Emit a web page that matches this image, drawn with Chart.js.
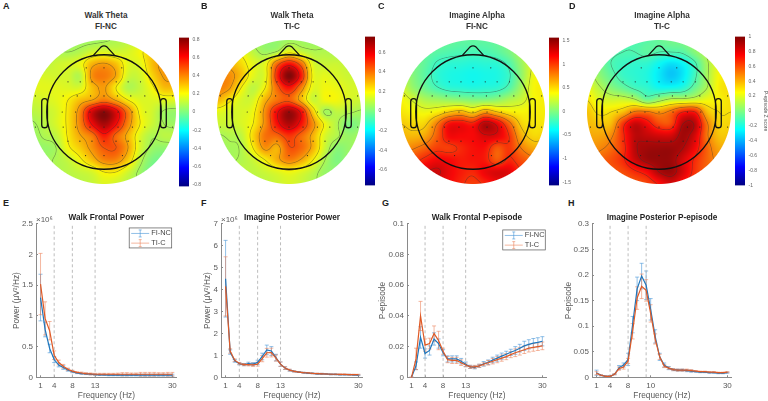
<!DOCTYPE html>
<html>
<head>
<meta charset="utf-8">
<script src="https://cdn.jsdelivr.net/npm/chart.js@4"></script>
<style>
  html, body { margin: 0; padding: 0; background: #fff; }
  body { width: 768px; height: 401px; position: relative; overflow: hidden; font-family: "Liberation Sans", sans-serif; filter: blur(0.35px); }
  canvas, .txt { position: absolute; }
  .letter { font: bold 9px "Liberation Sans"; color: #222; }
  .maptitle { font: bold 8.2px/11px "Liberation Sans"; color: #333; text-align: center; width: 120px; }
</style>
</head>
<body>
<script>
// TOPO MAPS: values on a 13x13 grid over the outer disc
const mapA = [
  [.05,.05,.05,.05,.05,.05,.06,.08,.1,.15,.2,.2,.2],
  [.08,.08,.08,.07,.09,.14,.16,.14,.15,.2,.28,.3,.3],
  [.1,.1,.13,.15,.18,.32,.36,.3,.17,.17,.3,.38,.38],
  [.15,.15,.14,.14,.1,.38,.42,.34,.14,.14,.26,.36,.38],
  [.17,.17,.17,.16,.16,.3,.36,.22,.09,.12,.2,.3,.3],
  [.13,.15,.17,.22,.3,.35,.42,.34,.22,.16,.16,.17,.17],
  [.1,.12,.15,.24,.4,.68,.8,.66,.42,.2,.14,.06,.04],
  [.06,.1,.15,.24,.4,.62,.75,.62,.4,.22,.13,.07,.05],
  [.04,.08,.11,.23,.34,.42,.58,.45,.32,.16,.08,.1,.1],
  [.04,.04,.07,.2,.28,.38,.48,.48,.35,.15,.05,.03,.04],
  [.05,.05,.08,.12,.2,.3,.4,.4,.28,.1,0,-.02,0],
  [.06,.06,.08,.1,.12,.15,.22,.22,.14,.05,-.02,-.02,0],
  [.08,.08,.08,.1,.1,.12,.16,.14,.1,.06,.02,0,0]
];
const mapB = [
  [.08,.08,.08,.05,.03,.03,.05,.05,.04,.05,.06,.06,.06],
  [.2,.2,.18,.1,.05,.08,.18,.12,.08,.08,.07,.07,.07],
  [.3,.3,.24,.16,.16,.42,.56,.42,.15,.12,.12,.1,.1],
  [.36,.36,.28,.16,.16,.52,.76,.55,.18,.16,.14,.12,.12],
  [.38,.34,.2,.1,.2,.42,.55,.38,.16,.18,.17,.14,.14],
  [.3,.22,.14,.14,.3,.4,.44,.3,.12,.18,.18,.14,.12],
  [.16,.14,.14,.18,.36,.58,.72,.58,.26,.06,.1,.08,.06],
  [.12,.12,.14,.2,.36,.56,.68,.56,.36,.18,.08,0,.02],
  [.06,.08,.1,.24,.4,.42,.5,.42,.3,.14,.08,.04,.06],
  [.04,.06,.08,.2,.35,.3,.45,.42,.3,.12,.02,.04,.08],
  [.05,.06,.08,.12,.2,.3,.38,.32,.2,.07,0,.05,.08],
  [.08,.1,.1,.1,.12,.15,.18,.15,.1,.04,.04,.08,.1],
  [.1,.1,.1,.1,.1,.12,.14,.12,.08,.06,.08,.1,.1]
];
const mapC = [
  [-.05,-.05,-.05,-.05,-.08,-.1,-.1,-.1,-.08,-.02,.08,.12,.12],
  [-.02,-.02,-.08,-.12,-.15,-.17,-.18,-.17,-.12,-.02,.14,.24,.24],
  [.1,0,-.1,-.22,-.27,-.28,-.3,-.28,-.27,-.16,.08,.3,.32],
  [.18,.02,-.12,-.26,-.32,-.34,-.36,-.34,-.32,-.22,.05,.35,.38],
  [.28,.08,-.06,-.18,-.26,-.28,-.3,-.28,-.26,-.14,.12,.38,.42],
  [.4,.28,.16,.12,.08,.05,.02,.02,.06,.16,.24,.38,.42],
  [.45,.4,.36,.42,.55,.62,.5,.7,.56,.44,.4,.42,.42],
  [.55,.5,.52,.8,1.15,1.18,1.12,1.4,1.25,.88,.52,.45,.45],
  [.62,.6,.66,.9,1.18,1.18,1.18,1.28,1.25,1.05,.65,.5,.52],
  [.72,.78,.88,1,1,1.08,1.15,1.15,.92,1.02,.8,.65,.65],
  [.9,.98,1.1,1.2,1.18,1.12,1.14,1.12,.92,1.08,.95,.85,.8],
  [1.1,1.18,1.28,1.32,1.22,1.12,1.08,1.22,1.28,1.25,1.05,.95,.9],
  [1.15,1.2,1.22,1.22,1.18,1.08,1,1.08,1.18,1.18,1.05,.95,.95]
];
const mapD = [
  [-.1,-.1,-.1,-.1,-.1,-.08,-.05,-.02,0,.05,.12,.12,.12],
  [-.02,-.02,-.08,-.1,-.1,-.07,-.1,-.1,-.08,.02,.12,.22,.22],
  [.1,0,-.1,-.14,-.16,-.17,-.24,-.3,-.25,-.12,.08,.22,.25],
  [.16,.04,-.06,-.14,-.17,-.2,-.28,-.35,-.28,-.12,.08,.25,.28],
  [.22,.12,.02,-.05,-.12,-.16,-.22,-.22,-.18,-.04,.1,.27,.3],
  [.3,.2,.17,.17,.12,-.02,.06,.14,.15,.18,.23,.26,.3],
  [.36,.28,.3,.37,.52,.52,.46,.54,.7,.7,.38,.3,.3],
  [.38,.36,.38,.66,.85,.76,.62,.62,.9,.88,.52,.33,.33],
  [.42,.42,.48,.68,.87,.86,.83,.83,.93,.82,.52,.36,.36],
  [.46,.48,.54,.66,.88,.93,.94,.94,.9,.76,.56,.42,.42],
  [.5,.55,.6,.68,.84,.93,.95,.94,.82,.68,.56,.47,.47],
  [.55,.58,.58,.61,.68,.75,.9,.94,.82,.66,.56,.52,.52],
  [.55,.56,.56,.56,.58,.62,.72,.82,.72,.62,.56,.52,.52]
];

// electrodes, in disc units
const elecX = [-.247,0,.247, -.5,-.33,-.167,0,.17,.335,.507, -.953,-.567,-.372,-.186,0,.186,.372,.567,.953, -.58,-.395,-.195,0,.195,.395,.58, -.953,-.567,-.395,-.195,0,.195,.395,.567,.953, -.5,-.335,-.167,0,.167,.335,.5, -.256,0,.256];
const elecY = [.614,.614,.614, .419,.419,.419,.419,.419,.419,.419, .223,.223,.223,.223,.223,.223,.223,.223,.223, 0,0,0,0,0,0,0, -.21,-.21,-.21,-.21,-.21,-.21,-.21,-.21,-.21, -.405,-.405,-.405,-.405,-.405,-.405,-.405, -.605,-.605,-.605];

const contourA = [.07,.22,.35,.48,.61];
const contourB = [.07,.2,.33,.46,.6];
const contourC = [-.2,.3,.55,.8,1.05,1.3];
const contourD = [-.1,.1,.3,.5,.7,.9];

const rangeA = .82, rangeB = .76, rangeC = 1.57, rangeD = 1;
const ticksA = [-.8,-.6,-.4,-.2,0,.2,.4,.6,.8];
const ticksB = [-.6,-.4,-.2,0,.2,.4,.6];
const ticksC = [-1.5,-1,-.5,0,.5,1,1.5];
const ticksD = [-1,-.8,-.6,-.4,-.2,0,.2,.4,.6,.8,1];

// SPECTRA
const freqs = [1,2,3,4,5,6,7,8,9,10,11,12,13,14,15,16,17,18,19,20,21,22,23,24,25,26,27,28,29,30];
const legendNames = ["FI-NC", "TI-C"];

const powerWalkFI = [1.3,.78,.47,.29,.2,.16,.12,.09,.07,.06,.055,.05,.045,.04,.04,.035,.035,.035,.035,.035,.035,.035,.035,.035,.035,.035,.035,.035,.035,.035];
const powerWalkFIerr = [.38,.12,.07,.05,.03,.03,.02,.015,.01,.01,.01,.01,.01,.01,.01,.01,.01,.01,.012,.012,.012,.012,.015,.015,.015,.015,.015,.015,.015,.015];
const powerWalkTI = [1.52,.96,.76,.36,.24,.18,.13,.1,.08,.07,.06,.055,.05,.05,.05,.05,.05,.05,.05,.05,.05,.05,.05,.05,.05,.05,.05,.05,.05,.05];
const powerWalkTIerr = [.5,.27,.15,.07,.04,.03,.02,.015,.012,.015,.015,.015,.015,.015,.015,.015,.015,.018,.025,.025,.02,.02,.03,.03,.03,.03,.025,.025,.03,.03];

const powerImagFI = [4.5,1.15,.75,.62,.58,.62,.6,.68,.95,1.25,1.2,.9,.6,.42,.32,.27,.24,.21,.19,.18,.16,.16,.15,.13,.13,.12,.12,.12,.11,.1];
const powerImagFIerr = [1.75,.1,.06,.05,.05,.07,.07,.1,.15,.22,.2,.15,.1,.06,.04,.03,.02,.02,.02,.02,.02,.02,.02,.02,.02,.02,.02,.02,.02,.02];
const powerImagTI = [4.15,1.2,.78,.63,.58,.58,.57,.6,.85,1.12,1.13,.88,.6,.42,.33,.27,.24,.21,.2,.18,.17,.16,.15,.14,.14,.13,.13,.12,.12,.12];
const powerImagTIerr = [1.35,.1,.06,.05,.05,.06,.07,.09,.14,.2,.2,.14,.1,.06,.04,.03,.02,.02,.02,.02,.02,.02,.02,.02,.02,.02,.02,.02,.02,.02];

const episWalkFI = [0,.0075,.026,.0155,.0175,.025,.022,.016,.012,.012,.012,.0105,.0085,.0068,.0065,.0075,.0088,.0098,.0113,.0125,.0138,.015,.0163,.0175,.019,.0205,.0215,.0223,.0228,.0235];
const episWalkFIerr = [0,.0025,.007,.003,.003,.004,.003,.002,.002,.002,.002,.0018,.0015,.001,.001,.001,.0015,.0015,.0018,.002,.002,.002,.002,.0025,.0025,.003,.003,.003,.003,.003];
const episWalkTI = [0,.012,.04,.021,.022,.0285,.024,.017,.0115,.011,.011,.0095,.008,.0068,.0068,.0075,.0085,.0095,.0105,.0115,.0125,.0135,.0148,.016,.017,.018,.019,.0195,.02,.0205];
const episWalkTIerr = [0,.007,.0095,.004,.0035,.005,.006,.002,.002,.002,.002,.0018,.0012,.001,.001,.001,.001,.0015,.0018,.002,.002,.002,.002,.0025,.0025,.0025,.0025,.0025,.0025,.0025];

const episImagFI = [.009,.004,.002,.002,.006,.019,.024,.035,.103,.173,.198,.18,.133,.08,.04,.024,.018,.015,.014,.014,.013,.012,.011,.01,.01,.009,.009,.008,.008,.009];
const episImagFIerr = [.005,.001,.001,.001,.001,.004,.004,.012,.016,.023,.025,.028,.021,.013,.007,.004,.003,.002,.002,.002,.002,.002,.001,.001,.001,.001,.001,.001,.001,.001];
const episImagTI = [.008,.004,.002,.002,.006,.017,.02,.032,.09,.155,.178,.17,.125,.075,.04,.022,.018,.015,.014,.014,.014,.013,.012,.011,.011,.01,.01,.009,.009,.01];
const episImagTIerr = [.003,.001,.001,.001,.001,.003,.004,.005,.015,.022,.024,.021,.017,.01,.005,.003,.002,.002,.002,.002,.002,.002,.001,.001,.001,.001,.001,.001,.001,.001];

const BLUE = "#1f77bd", ORANGE = "#df5a26";
const BLUE_ERR = "rgba(70,150,215,.75)", ORANGE_ERR = "rgba(235,125,85,.7)";
const FONT = "Liberation Sans";
const TICK_COLOR = "#5a5a5a";

Chart.defaults.animation = false;
Chart.defaults.responsive = false;
Chart.defaults.font.family = FONT;

function addCanvas(left, top, w, h) {
  let c = document.createElement("canvas");
  c.width = w; c.height = h;
  c.style.left = left + "px"; c.style.top = top + "px";
  document.body.appendChild(c);
  return c;
}

function addText(cls, left, top, html) {
  let d = document.createElement("div");
  d.className = "txt " + cls;
  d.style.left = left + "px"; d.style.top = top + "px";
  d.innerHTML = html;
  document.body.appendChild(d);
}

// MATLAB jet
function jet(t) {
  let f = (a) => Math.max(0, Math.min(1, 1.5 - Math.abs(4 * t - a)));
  return [f(3) * 255, f(2) * 255, f(1) * 255];
}

// catmull-rom on the grid, only to paint the picture smooth
function sampleGrid(g, gx, gy) {
  let n = g.length - 1;
  let ix = Math.min(n - 1, Math.floor(gx)), iy = Math.min(n - 1, Math.floor(gy));
  let tx = gx - ix, ty = gy - iy;
  let cr = (a, b, c, d, t) => b + 0.5 * t * (c - a + t * (2 * a - 5 * b + 4 * c - d + t * (3 * (b - c) + d - a)));
  let cl = (i) => Math.max(0, Math.min(n, i));
  let rows = [];
  for (let j = -1; j <= 2; j++) {
    let r = g[cl(iy + j)];
    rows.push(cr(r[cl(ix - 1)], r[ix], r[ix + 1], r[cl(ix + 2)], tx));
  }
  return cr(rows[0], rows[1], rows[2], rows[3], ty);
}

const topoPlugin = {
  id: "topo",
  beforeDatasetsDraw(chart, args, o) {
    let ctx = chart.ctx, xs = chart.scales.x, ys = chart.scales.y;
    let w = chart.width, h = chart.height;
    let field = new Float32Array(w * h);
    for (let py = 0; py < h; py++) for (let px = 0; px < w; px++) {
      let x = xs.getValueForPixel(px + .5), y = ys.getValueForPixel(py + .5);
      field[py * w + px] = sampleGrid(o.grid, Math.max(0, Math.min(12, (x + 1) * 6)), Math.max(0, Math.min(12, (1 - y) * 6)));
    }
    let img = ctx.createImageData(w, h);
    let rpx = xs.getPixelForValue(1) - xs.getPixelForValue(0);
    for (let py = 0; py < h; py++) for (let px = 0; px < w; px++) {
      let x = xs.getValueForPixel(px + .5), y = ys.getValueForPixel(py + .5);
      let d = Math.hypot(x, y);
      let a = Math.max(0, Math.min(1, (1 - d) * rpx + .5));
      if (a <= 0) continue;
      let v = field[py * w + px];
      let c = jet((v + o.range) / (2 * o.range)).map((k) => k * .94 + 128 * .06);
      // contour lines, softened by the local gradient
      let gx = field[py * w + Math.min(w - 1, px + 1)] - field[py * w + Math.max(0, px - 1)];
      let gy = field[Math.min(h - 1, py + 1) * w + px] - field[Math.max(0, py - 1) * w + px];
      let grad = Math.max(1e-4, Math.hypot(gx, gy) / 2);
      let line = 0;
      o.levels.forEach((l) => { line = Math.max(line, 1 - Math.abs(v - l) / grad / .8); });
      if (line > 0) c = c.map((k) => k * (1 - .38 * line) + 50 * .38 * line);
      let i = (py * w + px) * 4;
      img.data[i] = c[0]; img.data[i + 1] = c[1]; img.data[i + 2] = c[2]; img.data[i + 3] = a * 255;
    }
    ctx.putImageData(img, 0, 0);

    // head, nose, ears
    let X = (v) => xs.getPixelForValue(v), Y = (v) => ys.getPixelForValue(v);
    ctx.save();
    ctx.strokeStyle = "#111";
    ctx.lineWidth = 1.3;
    ctx.lineJoin = "round";
    ctx.beginPath();
    ctx.arc(X(0), Y(0), .795 * rpx, 0, Math.PI * 2);
    ctx.stroke();
    ctx.beginPath();
    ctx.moveTo(X(-.145), Y(.79));
    ctx.lineTo(X(-.04), Y(.905));
    ctx.quadraticCurveTo(X(0), Y(.93), X(.04), Y(.905));
    ctx.lineTo(X(.145), Y(.79));
    ctx.stroke();
    [-.865, .785].forEach((ex) => {
      ctx.beginPath();
      ctx.roundRect(X(ex), Y(.186), .08 * rpx, .405 * rpx, 3);
      ctx.stroke();
    });
    ctx.restore();
  },
};

function topoChart(cx, grid, levels, range) {
  new Chart(addCanvas(cx - 72, 40, 144, 144), {
    type: "scatter",
    data: {
      datasets: [{
        data: elecX.map((x, i) => ({ x: x, y: elecY[i] })),
        pointRadius: 0.6, backgroundColor: "#222", borderWidth: 0,
      }],
    },
    options: {
      layout: { padding: 0, autoPadding: false },
      plugins: { legend: { display: false }, tooltip: { enabled: false }, topo: { grid: grid, levels: levels, range: range } },
      scales: {
        x: { display: false, min: -1, max: 1 },
        y: { display: false, min: -1, max: 1 },
      },
    },
    plugins: [topoPlugin],
  });
}

function colorBar(left, top, bottom, range, ticks, axisTitle) {
  let padTop = 4, padBot = 4, barW = 10, w = axisTitle ? 33 : 36;
  new Chart(addCanvas(left, top - padTop, w, bottom - top + padTop + padBot), {
    type: "bar",
    data: {
      labels: ["z"],
      datasets: [{
        data: [[-range, range]],
        barPercentage: 1, categoryPercentage: 1, borderWidth: 0,
        backgroundColor: (c) => {
          let a = c.chart.chartArea;
          if (!a) return "#888";
          let g = c.chart.ctx.createLinearGradient(0, a.bottom, 0, a.top);
          for (let i = 0; i <= 32; i++) {
            let j = jet(i / 32);
            g.addColorStop(i / 32, "rgb(" + j.map(Math.round).join(",") + ")");
          }
          return g;
        },
      }],
    },
    options: {
      layout: { padding: { top: padTop, bottom: padBot } },
      plugins: { legend: { display: false }, tooltip: { enabled: false } },
      scales: {
        x: { display: false },
        y: {
          position: "right", min: -range, max: range,
          afterBuildTicks: (s) => { s.ticks = ticks.map((v) => ({ value: v })); },
          afterFit: (s) => { s.width = w - barW; },
          border: { display: false },
          grid: { display: false, drawTicks: false },
          ticks: { autoSkip: false, padding: 3.5, color: "#666", font: { size: 5 }, callback: (v) => String(v) },
          title: { display: !!axisTitle, text: axisTitle, color: "#555", font: { size: 5 }, padding: { top: 0, bottom: 1 } },
        },
      },
    },
  });
}

// error bars + legend box
const errPlugin = {
  id: "errs",
  beforeDatasetsDraw(chart, args, o) {
    let ctx = chart.ctx, xs = chart.scales.x, ys = chart.scales.y;
    ctx.save();
    ctx.lineWidth = 0.8;
    o.series.forEach((s) => {
      ctx.strokeStyle = s.errColor;
      ctx.beginPath();
      freqs.forEach((f, i) => {
        let px = xs.getPixelForValue(f);
        let top = ys.getPixelForValue(s.mean[i] + s.err[i]);
        let bot = ys.getPixelForValue(Math.max(0, s.mean[i] - s.err[i]));
        ctx.moveTo(px, top); ctx.lineTo(px, bot);
        ctx.moveTo(px - 2, top); ctx.lineTo(px + 2, top);
        ctx.moveTo(px - 2, bot); ctx.lineTo(px + 2, bot);
      });
      ctx.stroke();
    });
    ctx.restore();
  },
  afterDatasetsDraw(chart, args, o) {
    let ctx = chart.ctx, a = chart.chartArea;
    ctx.save();
    if (o.exponent) {
      ctx.fillStyle = TICK_COLOR;
      ctx.font = "8px " + FONT;
      ctx.textBaseline = "middle";
      ctx.fillText(o.exponent, a.left, a.top - 4);
    }
    if (o.legend) {
      let r = a.right - o.legend.right, t = a.top + o.legend.top;
      let l = r - 42.5;
      ctx.fillStyle = "#fff";
      ctx.strokeStyle = "#555";
      ctx.lineWidth = 0.7;
      ctx.fillRect(l, t, 42.5, 20);
      ctx.strokeRect(l, t, 42.5, 20);
      ctx.font = "7.4px " + FONT;
      ctx.textBaseline = "middle";
      legendNames.forEach((name, i) => {
        let y = t + 5.5 + i * 9.7;
        let s = o.series[i];
        ctx.strokeStyle = s.errColor;
        ctx.lineWidth = 0.8;
        ctx.beginPath();
        ctx.moveTo(l + 2, y); ctx.lineTo(l + 20, y);
        ctx.moveTo(l + 11, y - 3.5); ctx.lineTo(l + 11, y + 3.5);
        ctx.moveTo(l + 9.5, y - 3.5); ctx.lineTo(l + 12.5, y - 3.5);
        ctx.moveTo(l + 9.5, y + 3.5); ctx.lineTo(l + 12.5, y + 3.5);
        ctx.stroke();
        ctx.fillStyle = "#444";
        ctx.fillText(name, l + 22, y);
      });
    }
    ctx.restore();
  },
};

function spectrum(p) {
  let top = 212, height = 189;
  let bandDatasets = p.bands.map((b) => ({
    data: [{ x: b, y: 0 }, { x: b, y: p.ymax }],
    showLine: true, pointRadius: 0, borderColor: "#b5b5b5", borderWidth: 0.9, borderDash: [3, 2.5], order: 3,
  }));
  let series = [
    { mean: p.fi, err: p.fiErr, errColor: BLUE_ERR },
    { mean: p.ti, err: p.tiErr, errColor: ORANGE_ERR },
  ];
  new Chart(addCanvas(p.left, top, p.width, height), {
    type: "scatter",
    data: {
      datasets: bandDatasets.concat([
        { data: freqs.map((f, i) => ({ x: f, y: p.fi[i] })), showLine: true, pointRadius: 0, borderColor: BLUE, borderWidth: 1.2, order: 2 },
        { data: freqs.map((f, i) => ({ x: f, y: p.ti[i] })), showLine: true, pointRadius: 0, borderColor: ORANGE, borderWidth: 1.2, order: 1 },
      ]),
    },
    options: {
      layout: { padding: { right: p.padRight } },
      plugins: {
        legend: { display: false },
        tooltip: { enabled: false },
        title: { display: true, text: p.title, fullSize: false, color: "#222", font: { size: 8.2, weight: "bold" }, padding: { top: 0.6, bottom: 1.5 } },
        errs: { series: series, exponent: p.exponent, legend: p.legend },
      },
      scales: {
        x: {
          type: "linear", min: 0, max: 31,
          afterBuildTicks: (s) => { s.ticks = p.xTicks.map((v) => ({ value: v })); },
          afterFit: (s) => { s.height = 23.7; },
          border: { color: "#8a8a8a" },
          grid: { drawOnChartArea: false, tickLength: -2, color: "#8a8a8a" },
          ticks: { autoSkip: false, maxRotation: 0, padding: 6, color: TICK_COLOR, font: { size: 8 }, callback: (v) => p.xLabels[p.xTicks.indexOf(v)] },
          title: { display: true, text: "Frequency (Hz)", color: TICK_COLOR, font: { size: 8.3 }, padding: 0 },
        },
        y: {
          min: 0, max: p.ymax,
          afterBuildTicks: (s) => { s.ticks = p.yTicks.map((v) => ({ value: v })); },
          afterFit: (s) => { s.width = p.yWidth; },
          border: { color: "#8a8a8a" },
          grid: { drawOnChartArea: false, tickLength: -2, color: "#8a8a8a" },
          ticks: { autoSkip: false, padding: 5, color: TICK_COLOR, font: { size: 8 }, callback: (v) => String(v) },
          title: { display: true, text: p.yTitle, color: TICK_COLOR, font: { size: 8.3 }, padding: 0 },
        },
      },
    },
    plugins: [errPlugin],
  });
}

topoChart(104, mapA, contourA, rangeA);
topoChart(289, mapB, contourB, rangeB);
topoChart(473, mapC, contourC, rangeC);
topoChart(659, mapD, contourD, rangeD);

colorBar(179, 35, 189, rangeA, ticksA);
colorBar(365, 34, 188, rangeB, ticksB);
colorBar(549, 35, 188, rangeC, ticksC);
colorBar(735, 34, 188, rangeD, ticksD, "P-episode Z score");

addText("maptitle", 46, 10, "Walk Theta<br>FI-NC");
addText("maptitle", 232, 10, "Walk Theta<br>TI-C");
addText("maptitle", 417, 10, "Imagine Alpha<br>FI-NC");
addText("maptitle", 602, 10, "Imagine Alpha<br>TI-C");

addText("letter", 3, 1, "A");
addText("letter", 201, 1, "B");
addText("letter", 378, 1, "C");
addText("letter", 569, 1, "D");
addText("letter", 3, 198, "E");
addText("letter", 201, 198, "F");
addText("letter", 382, 198, "G");
addText("letter", 568, 198, "H");

const powerTitle = "Power (\u03bcV\u00b2/Hz)";
spectrum({ left: 12, yWidth: 24, width: 171, padRight: 6, title: "Walk Frontal Power", ymax: 2.5, yTicks: [0,.5,1,1.5,2,2.5], yTitle: powerTitle, xTicks: [1,4,8,13,30], xLabels: ["1","4","8","13","30"], bands: [4,8,13], fi: powerWalkFI, fiErr: powerWalkFIerr, ti: powerWalkTI, tiErr: powerWalkTIerr, exponent: "\u00d710\u2076", legend: { right: 5.2, top: 4 } });
spectrum({ left: 203, yWidth: 18, width: 166, padRight: 6, title: "Imagine Posterior Power", ymax: 7, yTicks: [0,1,2,3,4,5,6,7], yTitle: powerTitle, xTicks: [1,4,8,13,30], xLabels: ["1","4","8","13","30"], bands: [4,8,13], fi: powerImagFI, fiErr: powerImagFIerr, ti: powerImagTI, tiErr: powerImagTIerr, exponent: "\u00d710\u2076" });
spectrum({ left: 378, yWidth: 29, width: 175, padRight: 6, title: "Walk Frontal P-episode", ymax: .1, yTicks: [0,.02,.04,.06,.08,.1], yTitle: "P-episode", xTicks: [1,4,8,13,30], xLabels: ["1","4","8","13","30"], bands: [4,8,13], fi: episWalkFI, fiErr: episWalkFIerr, ti: episWalkTI, tiErr: episWalkTIerr, legend: { right: 1.6, top: 6 } });
spectrum({ left: 564, yWidth: 28, width: 174, padRight: 6, title: "Imagine Posterior P-episode", ymax: .3, yTicks: [0,.05,.1,.15,.2,.25,.3], yTitle: "P-episode", xTicks: [1,4,8,13,30], xLabels: ["1","4","8","10","30"], bands: [4,8,12], fi: episImagFI, fiErr: episImagFIerr, ti: episImagTI, tiErr: episImagTIerr });
</script>
</body>
</html>
